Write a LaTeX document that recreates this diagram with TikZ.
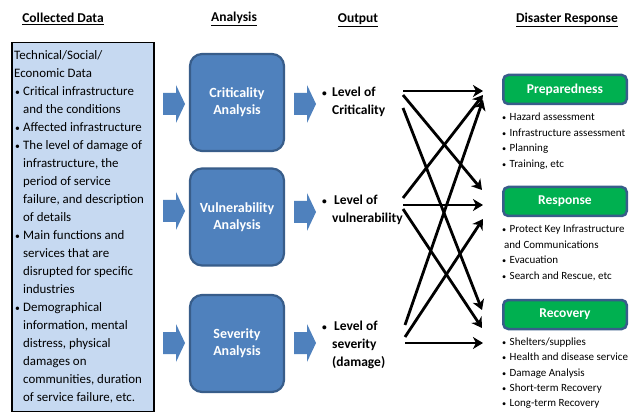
\documentclass[tikz,border=0pt]{standalone}
\usepackage{fontspec}
\usepackage{graphicx}
\setmainfont{Carlito}
\usetikzlibrary{arrows.meta}

\definecolor{datafill}{HTML}{C6D9F1}
\definecolor{stepblue}{HTML}{4F81BD}
\definecolor{stepedge}{HTML}{385D8A}
\definecolor{respgreen}{HTML}{00B050}

% bullets and continuation indents for the lists
\newcommand{\lbul}{\hspace*{1pt}\makebox[8pt][l]{\scalebox{0.75}{\textbullet}}}
\newcommand{\lcont}{\hspace*{9pt}}
\newcommand{\obul}{\makebox[10pt][l]{\scalebox{0.7}{\textbullet}}}
\newcommand{\ocont}{\hspace*{10pt}}
\newcommand{\rbul}{\makebox[7.5pt][l]{\scalebox{0.75}{\textbullet}}}

\tikzset{
  header/.style={font=\fontsize{13.5}{16}\selectfont\bfseries, inner sep=0pt},
  databox/.style={fill=datafill, draw=black, line width=1.6pt},
  listtext/.style={inner sep=0pt, anchor=base west},
  stepbox/.style={rounded corners=12pt, fill=stepblue, draw=stepedge, line width=2.2pt,
    minimum width=94pt, minimum height=97pt, text=white, align=center,
    font=\fontsize{14}{17}\selectfont\bfseries},
  phase/.style={rounded corners=5pt, fill=respgreen, draw=stepedge, line width=2.5pt,
    minimum width=123.5pt, minimum height=29pt, text=white,
    font=\fontsize{13.5}{16}\selectfont\bfseries},
  link/.style={line width=2.8pt, -{Stealth[length=10pt,width=12pt,inset=3pt]}},
  blockarrow/.pic={
    \fill[stepblue] (-11,-11) -- (2,-11) -- (2,-19) -- (11,0) -- (2,19) -- (2,11) -- (-11,11) -- cycle;
  }
}

\begin{document}
\begin{tikzpicture}[x=1pt,y=-1pt]
  \fill[white] (0,0) rectangle (632,414);
  \useasboundingbox (0,0) rectangle (632,414);

  % column headers
  \node[header] (hdata) at (63,19) {\underline{Collected Data}};
  \node[header] (hanalysis) at (234,19) {\underline{Analysis}};
  \node[header] (houtput) at (358,20) {\underline{Output}};
  \node[header] (hresponse) at (567,20) {\underline{Disaster Response}};

  % collected data panel
  \node[databox, minimum width=142pt, minimum height=369pt] (data) at (83,227) {};
  \node[listtext, font=\fontsize{12.9}{18}\selectfont] (datatext) at (14,60) {%
    \begin{tabular}[t]{@{}l@{}}
      Technical/Social/\\
      Economic Data\\
      \lbul Critical infrastructure\\
      \lcont and the conditions\\
      \lbul Affected infrastructure\\
      \lbul The level of damage of\\
      \lcont infrastructure, the\\
      \lcont period of service\\
      \lcont failure, and description\\
      \lcont of details\\
      \lbul Main functions and\\
      \lcont services that are\\
      \lcont disrupted for specific\\
      \lcont industries\\
      \lbul Demographical\\
      \lcont information, mental\\
      \lcont distress, physical\\
      \lcont damages on\\
      \lcont communities, duration\\
      \lcont of service failure, etc.
    \end{tabular}};

  % analysis steps with their input and output block arrows
  \node[stepbox] (crit) at (237,102.5) {Criticality\\Analysis};
  \node[stepbox] (vuln) at (237,217) {Vulnerability\\Analysis};
  \node[stepbox] (sev) at (237,343.5) {Severity\\Analysis};

  \pic at (174,104) {blockarrow};
  \pic at (174,211) {blockarrow};
  \pic at (174,343) {blockarrow};
  \pic at (305,104) {blockarrow};
  \pic at (305,212) {blockarrow};
  \pic at (305,343) {blockarrow};

  % outputs
  \node[listtext, font=\fontsize{13.5}{18}\selectfont\bfseries] (outc) at (322,96.5) {%
    \begin{tabular}[t]{@{}l@{}}\obul Level of\\ \ocont Criticality\end{tabular}};
  \node[listtext, font=\fontsize{13.5}{18}\selectfont\bfseries] (outv) at (322,204.5) {%
    \begin{tabular}[t]{@{}l@{}}\obul\hspace*{2pt}Level of\\ \ocont vulnerability\end{tabular}};
  \node[listtext, font=\fontsize{13.5}{18}\selectfont\bfseries] (outs) at (322,330.5) {%
    \begin{tabular}[t]{@{}l@{}}\obul\hspace*{2pt}Level of\\ \ocont severity\\ \ocont (damage)\end{tabular}};

  % disaster response phases
  \node[phase] (prep) at (565,89.5) {Preparedness};
  \node[phase] (resp) at (565,201.5) {Response};
  \node[phase] (recov) at (565,314.5) {Recovery};

  \node[listtext, font=\fontsize{11}{15.6}\selectfont] (preplist) at (502,120.5) {%
    \begin{tabular}[t]{@{}l@{}}
      \rbul Hazard assessment\\
      \rbul Infrastructure assessment\\
      \rbul Planning\\
      \rbul Training, etc
    \end{tabular}};
  \node[listtext, font=\fontsize{11}{15.6}\selectfont] (resplist) at (502,232.5) {%
    \begin{tabular}[t]{@{}l@{}}
      \rbul Protect Key Infrastructure\\
      \hspace*{2pt}and Communications\\
      \rbul Evacuation\\
      \rbul Search and Rescue, etc
    \end{tabular}};
  \node[listtext, font=\fontsize{11}{15.3}\selectfont] (recovlist) at (502,345.5) {%
    \begin{tabular}[t]{@{}l@{}}
      \rbul Shelters/supplies\\
      \rbul Health and disease service\\
      \rbul Damage Analysis\\
      \rbul Short-term Recovery\\
      \rbul Long-term Recovery
    \end{tabular}};

  % link end points
  \coordinate (c1) at (403,91);
  \coordinate (c2) at (403,95);
  \coordinate (c3) at (403,108);
  \coordinate (v1) at (403,198);
  \coordinate (v2) at (403,205);
  \coordinate (v3) at (403,209);
  \coordinate (s1) at (405,325);
  \coordinate (s2) at (405,337);
  \coordinate (s3) at (405,343);

  \coordinate (p1) at (483,91);
  \coordinate (p2) at (483,95);
  \coordinate (p3) at (483,100);
  \coordinate (r1) at (482,190);
  \coordinate (r2) at (483,205);
  \coordinate (r3) at (483,219);
  \coordinate (q1) at (482,310);
  \coordinate (q2) at (482,328);
  \coordinate (q3) at (483,343);

  % every output feeds every phase
  \draw[link] (c1) -- (p1);
  \draw[link] (c2) -- (r1);
  \draw[link] (c3) -- (q1);
  \draw[link] (v1) -- (p2);
  \draw[link] (v2) -- (r2);
  \draw[link] (v3) -- (q2);
  \draw[link] (s1) -- (p3);
  \draw[link] (s2) -- (r3);
  \draw[link] (s3) -- (q3);
\end{tikzpicture}
\end{document}
